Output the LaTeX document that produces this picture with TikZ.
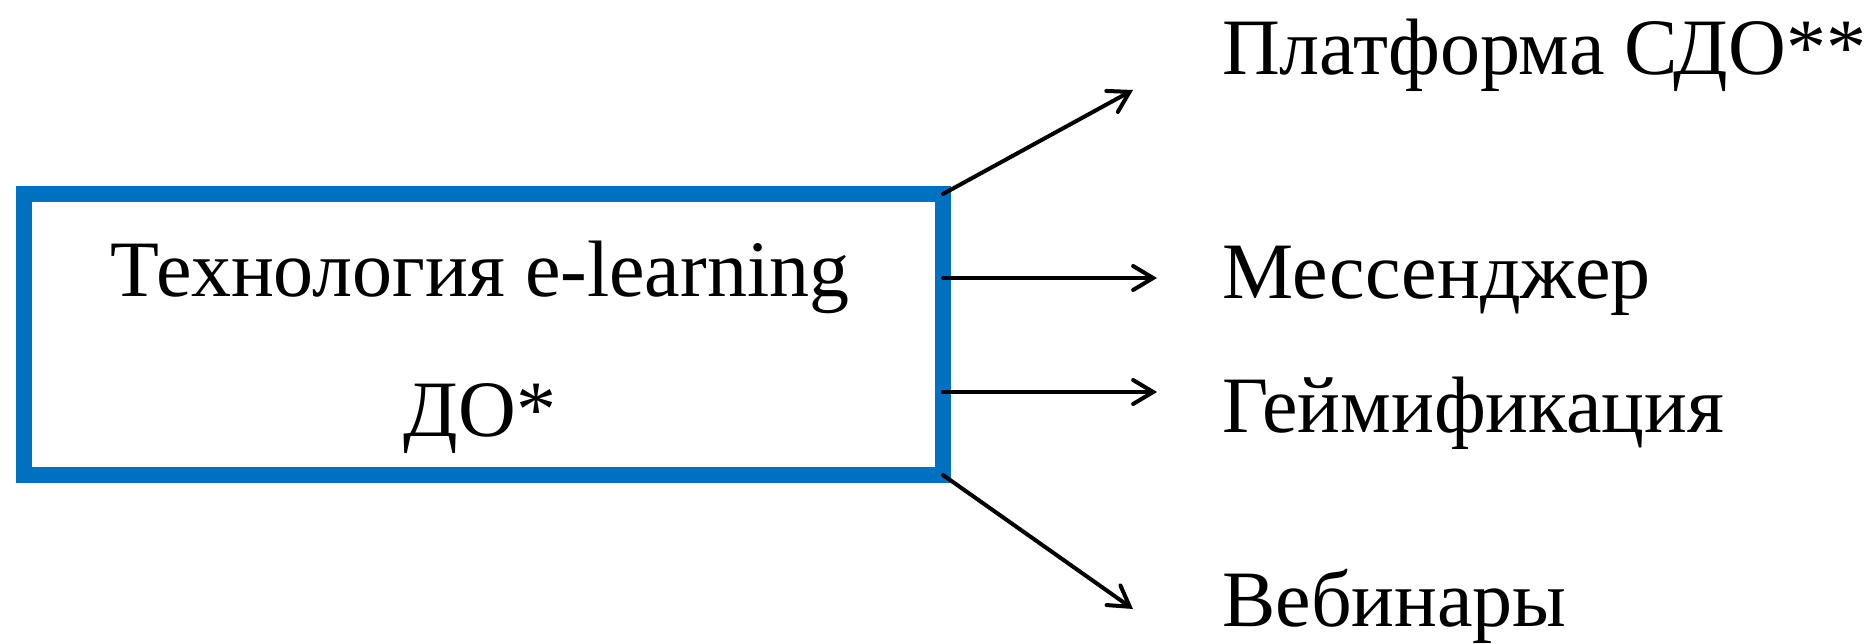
\documentclass[tikz,border=0pt]{standalone}
\usepackage{fontspec}
\setmainfont{Liberation Serif}
\usetikzlibrary{arrows.meta}
\definecolor{boxblue}{HTML}{0070C0}
\begin{document}
\begin{tikzpicture}[x=1pt,y=-1pt,
  mainbox/.style={draw=boxblue, line width=15.5pt, minimum width=919pt, minimum height=281pt, inner sep=0pt, outer sep=0pt},
  lbl/.style={anchor=base west, inner sep=0pt, font=\fontsize{80}{96}\selectfont},
  conn/.style={line width=4pt, line cap=round, -{Straight Barb[length=20pt,width=24pt,line cap=round]}}]
\useasboundingbox (0,0) rectangle (1871,643);
\node[mainbox] (box) at (483.5,334.5) {};
\node[lbl, anchor=base] (t1) at (480,296) {Технология e-learning};
\node[lbl, anchor=base] (t2) at (480,436) {ДО*};
\node[lbl] (l1) at (1222,74) {Платформа СДО**};
\node[lbl] (l2) at (1222,298) {Мессенджер};
\node[lbl] (l3) at (1222,432) {Геймификация};
\node[lbl] (l4) at (1222,626) {Вебинары};
\coordinate (e1) at (1133,90);
\coordinate (e2) at (1157,278);
\coordinate (e3) at (1157,392);
\coordinate (e4) at (1133,609);
\draw[conn] (box.north east) -- (e1);
\draw[conn] ([yshift=56.5pt]box.east) -- (e2);
\draw[conn] ([yshift=-57.5pt]box.east) -- (e3);
\draw[conn] (box.south east) -- (e4);
\end{tikzpicture}
\end{document}
